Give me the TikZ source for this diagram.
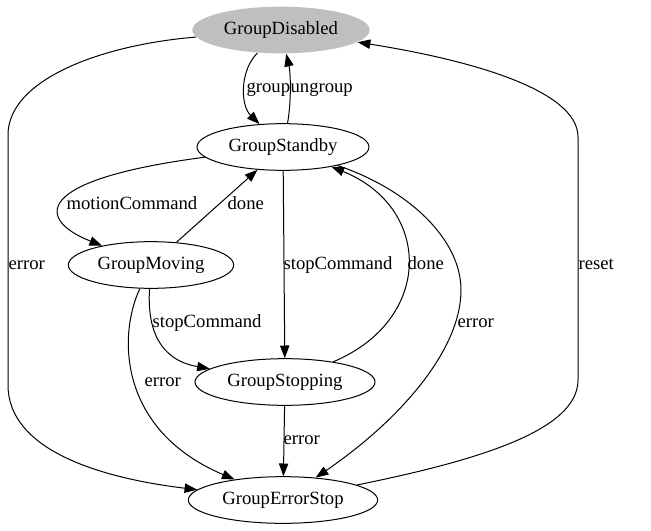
\documentclass[tikz,border=0pt]{standalone}
\usepackage{fontspec}
\setmainfont{Liberation Serif}
\usetikzlibrary{shapes,arrows.meta}

\tikzset{
  state/.style={ellipse, draw, line width=0.75bp, inner sep=0pt, minimum height=35bp,
    font=\fontsize{14bp}{16bp}\selectfont},
  edge/.style={line width=0.75bp, -{Triangle[length=9.5bp,width=7bp]}},
  lbl/.style={anchor=west, inner sep=1bp, text height=9bp, text depth=3bp,
    font=\fontsize{14bp}{16bp}\selectfont}
}

\begin{document}
\begin{tikzpicture}[x=0.75bp,y=-0.75bp]
  \useasboundingbox (0,0) rectangle (651,531);

  % States
  \node[state, draw=none, fill=gray!50, minimum width=133bp] (dis) at (281,30) {GroupDisabled};
  \node[state, minimum width=129bp] (stb) at (283,147) {GroupStandby};
  \node[state, minimum width=124bp] (mov) at (151,265) {GroupMoving};
  \node[state, minimum width=135bp] (stp) at (285,382) {GroupStopping};
  \node[state, minimum width=142bp] (ers) at (283,500) {GroupErrorStop};

  % Group / ungroup
  \draw[edge] (dis) .. controls (240,70) and (240,105) .. (stb);
  \draw[edge] (stb) .. controls (291,105) and (291,75) .. (dis);
  \node[lbl] (lgroup) at (245,88) {group};
  \node[lbl] (lungroup) at (289,88) {ungroup};

  % Motion
  \draw[edge] (stb) .. controls (30,180) and (37,220) .. (mov);
  \draw[edge] (mov) -- (stb);
  \node[lbl] (lmotion) at (65,205) {motionCommand};
  \node[lbl] (ldonemov) at (226,205) {done};

  % Stopping
  \draw[edge] (stb) -- (stp);
  \draw[edge] (stp) .. controls (433,320) and (433,208) .. (stb);
  \draw[edge] (mov) .. controls (147,330) and (160,360) .. (stp);
  \node[lbl] (lstopstb) at (282,265) {stopCommand};
  \node[lbl] (ldonestp) at (406,265) {done};
  \node[lbl] (lstopmov) at (151,323) {stopCommand};

  % Errors
  \draw[edge] (stb) .. controls (410,190) and (461,240) .. (461,290)
    .. controls (461,350) and (400,420) .. (ers);
  \draw[edge] (mov) .. controls (118,335) and (118,430) .. (ers);
  \draw[edge] (stp) -- (ers);
  \draw[edge] (dis) .. controls (100,45) and (8,80) .. (8,135) -- (8,385)
    .. controls (8,450) and (100,478) .. (ers);
  \node[lbl] (lerrstb) at (456,323) {error};
  \node[lbl] (lerrmov) at (143,382) {error};
  \node[lbl] (lerrstp) at (282,440) {error};
  \node[lbl] (lerrdis) at (7,265) {error};

  % Reset
  \draw[edge] (ers) .. controls (480,460) and (578,430) .. (578,380) -- (578,137)
    .. controls (578,90) and (470,60) .. (dis);
  \node[lbl] (lreset) at (577,265) {reset};
\end{tikzpicture}
\end{document}
